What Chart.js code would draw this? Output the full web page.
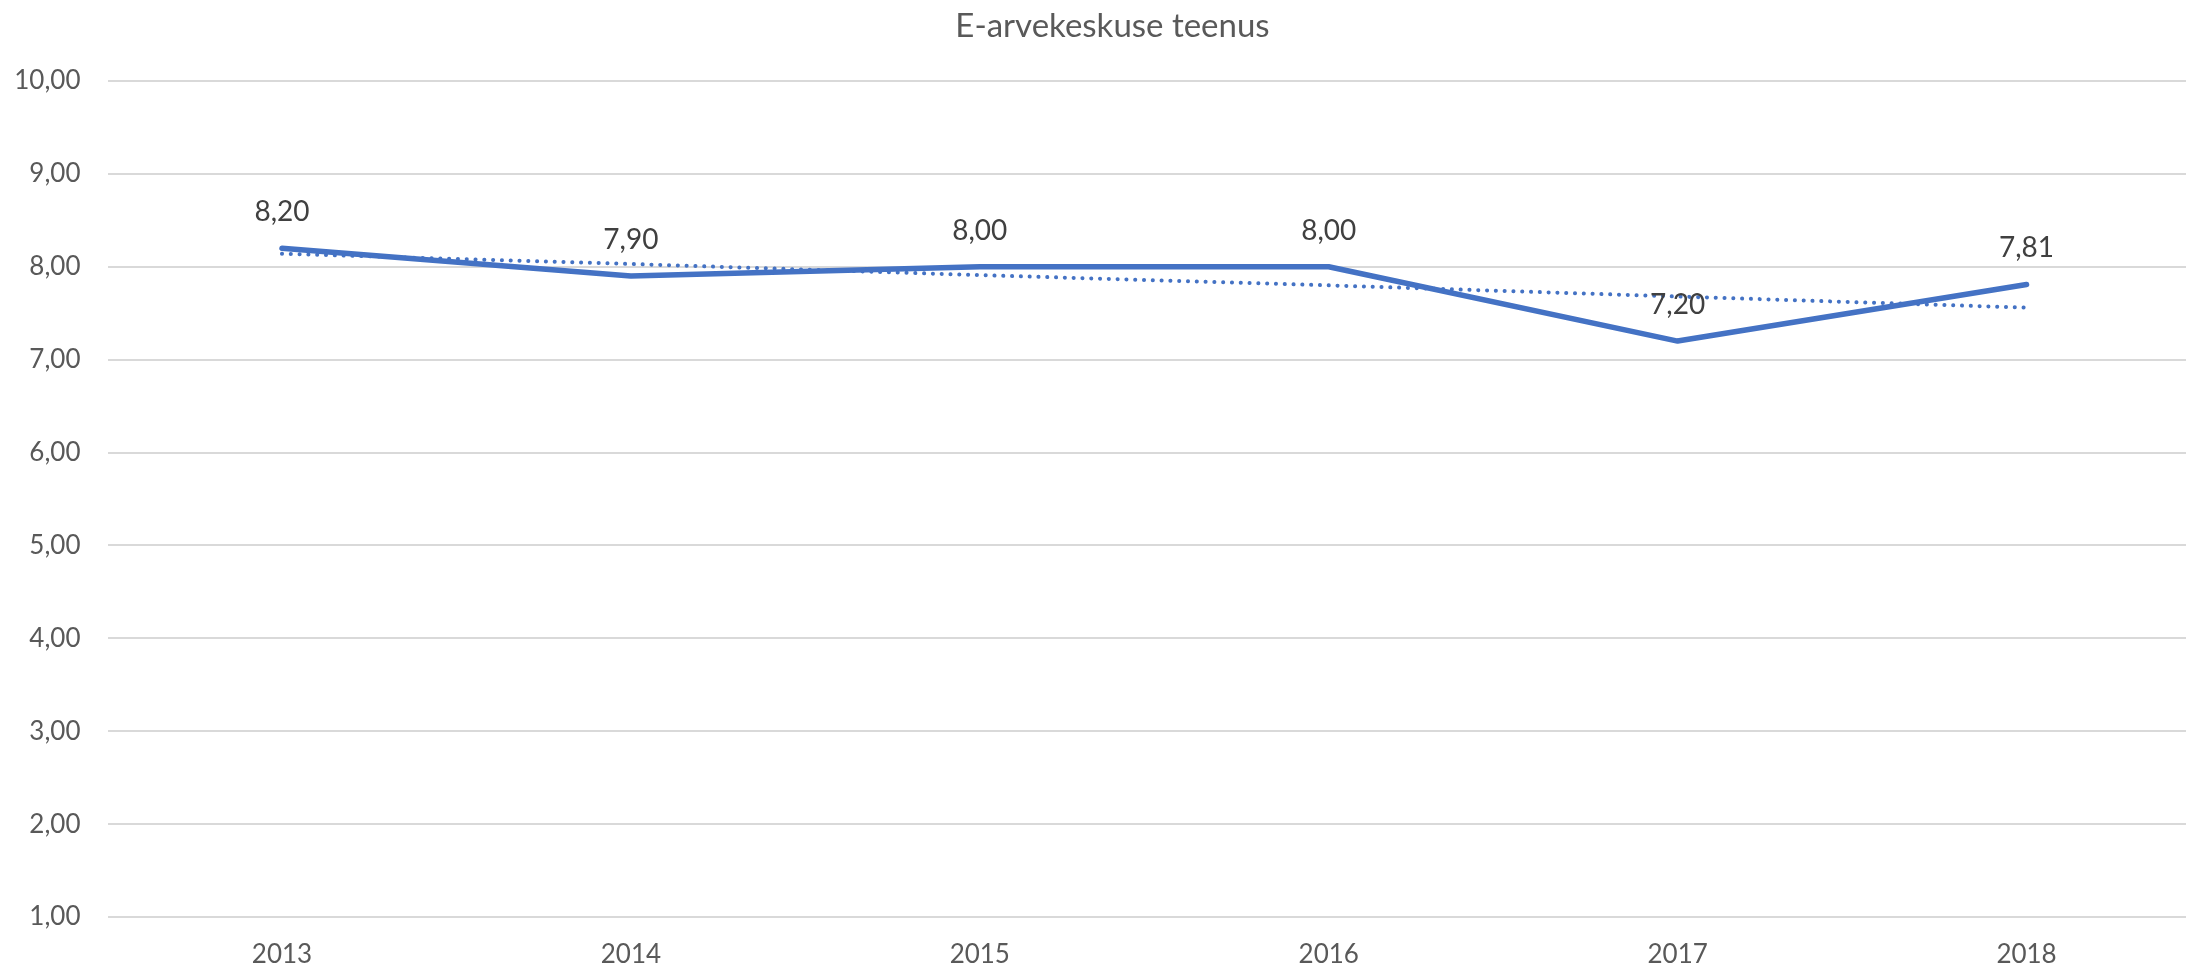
<!DOCTYPE html>
<html>
<head>
<meta charset="utf-8">
<title>E-arvekeskuse teenus</title>
<script src="https://cdn.jsdelivr.net/npm/chart.js@4/dist/chart.umd.min.js"></script>
<style>
  html, body { margin: 0; padding: 0; background: #fff; overflow: hidden; }
  /* plot area runs slightly past the right edge of the picture, like the original */
  #wrap { position: relative; width: 2201px; height: 970px; }
</style>
</head>
<body>
<div id="wrap"><canvas id="chart"></canvas></div>
<script>
  // data
  const years = ['2013', '2014', '2015', '2016', '2017', '2018'];
  const scores = [8.20, 7.90, 8.00, 8.00, 7.20, 7.81];
  // linear trend line (Excel trendline)
  const trend = [8.14, 8.03, 7.91, 7.80, 7.68, 7.56];
  const yTicks = [1, 2, 3, 4, 5, 6, 7, 8, 9, 10];
  const chartTitle = 'E-arvekeskuse teenus';

  const blue = '#4472C4';
  const fmt = v => v.toFixed(2).replace('.', ',');

  // title: centred on the visible picture, which is a bit narrower than the canvas
  const titlePlugin = {
    id: 'sheetTitle',
    afterDraw(chart) {
      const ctx = chart.ctx;
      ctx.save();
      ctx.font = '33px Lato';
      ctx.fillStyle = '#595959';
      ctx.textAlign = 'center';
      ctx.textBaseline = 'middle';
      ctx.fillText(chartTitle, chart.width / 2 + 12, 26);
      ctx.restore();
    }
  };

  // value labels above the points
  const valueLabels = {
    id: 'valueLabels',
    afterDatasetsDraw(chart) {
      const ctx = chart.ctx;
      const meta = chart.getDatasetMeta(0);
      ctx.save();
      ctx.font = '28px Lato';
      ctx.fillStyle = '#404040';
      ctx.textAlign = 'center';
      ctx.textBaseline = 'middle';
      meta.data.forEach((pt, i) => {
        ctx.fillText(fmt(scores[i]), pt.x, pt.y - 36);
      });
      ctx.restore();
    }
  };

  new Chart(document.getElementById('chart'), {
    type: 'line',
    data: {
      labels: years,
      datasets: [
        {
          label: 'E-arvekeskuse teenus',
          data: scores,
          borderColor: blue,
          borderWidth: 5.5,
          borderCapStyle: 'round',
          borderJoinStyle: 'round',
          pointRadius: 0,
          tension: 0,
          fill: false
        },
        {
          label: 'Lineaarne trend',
          data: trend,
          borderColor: blue,
          borderWidth: 4,
          borderDash: [0.1, 8.7],
          borderCapStyle: 'round',
          pointRadius: 0,
          tension: 0,
          fill: false
        }
      ]
    },
    options: {
      responsive: true,
      maintainAspectRatio: false,
      animation: false,
      layout: { padding: { left: 0, right: 0, top: 81, bottom: 0 } },
      plugins: {
        legend: { display: false },
        tooltip: { enabled: false },
        title: { display: false }
      },
      scales: {
        x: {
          offset: true,
          grid: { display: false, drawTicks: false },
          border: { display: false },
          ticks: {
            color: '#595959',
            font: { family: 'Lato', size: 26 },
            padding: 22,
            maxRotation: 0
          },
          afterFit(scale) { scale.height = 53; }
        },
        y: {
          min: yTicks[0],
          max: yTicks[yTicks.length - 1],
          grid: { color: '#d9d9d9', lineWidth: 2, drawTicks: false },
          border: { display: false },
          afterBuildTicks(scale) { scale.ticks = yTicks.map(v => ({ value: v })); },
          ticks: {
            color: '#595959',
            font: { family: 'Lato', size: 26 },
            padding: 27,
            callback: v => fmt(v)
          },
          afterFit(scale) { scale.width = 107.5; }
        }
      }
    },
    plugins: [valueLabels, titlePlugin]
  });
</script>
</body>
</html>
